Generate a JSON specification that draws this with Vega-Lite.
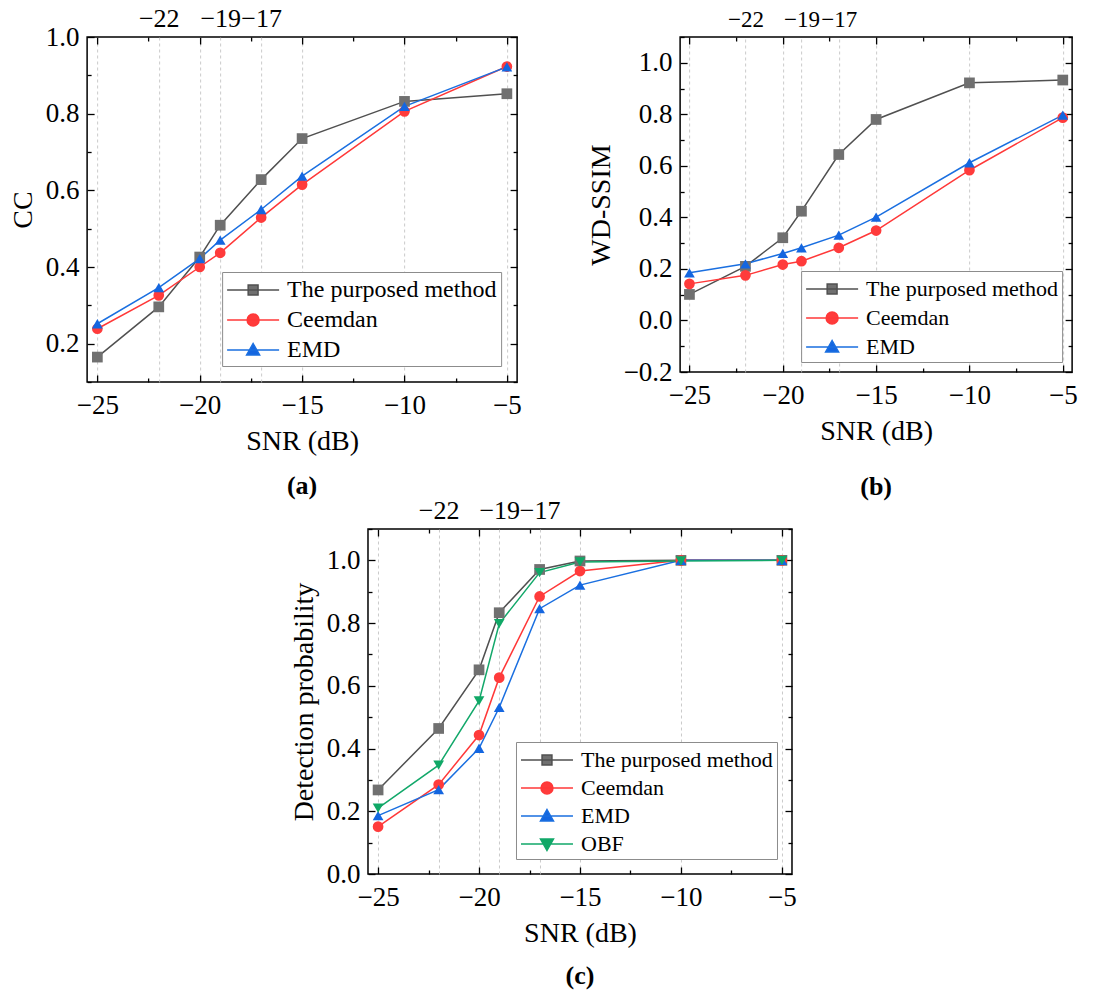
{
  "$schema": "https://vega.github.io/schema/vega-lite/v6.json",
  "background": "white",
  "padding": {"left": 8, "top": 4, "right": 4, "bottom": 4},
  "datasets": {
    "a": [
      {"snr": -25, "v": 0.165, "method": "The purposed method"},
      {"snr": -22, "v": 0.296, "method": "The purposed method"},
      {"snr": -20, "v": 0.426, "method": "The purposed method"},
      {"snr": -19, "v": 0.509, "method": "The purposed method"},
      {"snr": -17, "v": 0.628, "method": "The purposed method"},
      {"snr": -15, "v": 0.735, "method": "The purposed method"},
      {"snr": -10, "v": 0.832, "method": "The purposed method"},
      {"snr": -5, "v": 0.852, "method": "The purposed method"},
      {"snr": -25, "v": 0.239, "method": "Ceemdan"},
      {"snr": -22, "v": 0.326, "method": "Ceemdan"},
      {"snr": -20, "v": 0.400, "method": "Ceemdan"},
      {"snr": -19, "v": 0.437, "method": "Ceemdan"},
      {"snr": -17, "v": 0.529, "method": "Ceemdan"},
      {"snr": -15, "v": 0.615, "method": "Ceemdan"},
      {"snr": -10, "v": 0.806, "method": "Ceemdan"},
      {"snr": -5, "v": 0.923, "method": "Ceemdan"},
      {"snr": -25, "v": 0.252, "method": "EMD"},
      {"snr": -22, "v": 0.346, "method": "EMD"},
      {"snr": -20, "v": 0.422, "method": "EMD"},
      {"snr": -19, "v": 0.470, "method": "EMD"},
      {"snr": -17, "v": 0.550, "method": "EMD"},
      {"snr": -15, "v": 0.637, "method": "EMD"},
      {"snr": -10, "v": 0.819, "method": "EMD"},
      {"snr": -5, "v": 0.922, "method": "EMD"}
    ],
    "b": [
      {"snr": -25, "v": 0.101, "method": "The purposed method"},
      {"snr": -22, "v": 0.210, "method": "The purposed method"},
      {"snr": -20, "v": 0.321, "method": "The purposed method"},
      {"snr": -19, "v": 0.424, "method": "The purposed method"},
      {"snr": -17, "v": 0.644, "method": "The purposed method"},
      {"snr": -15, "v": 0.780, "method": "The purposed method"},
      {"snr": -10, "v": 0.922, "method": "The purposed method"},
      {"snr": -5, "v": 0.933, "method": "The purposed method"},
      {"snr": -25, "v": 0.142, "method": "Ceemdan"},
      {"snr": -22, "v": 0.175, "method": "Ceemdan"},
      {"snr": -20, "v": 0.217, "method": "Ceemdan"},
      {"snr": -19, "v": 0.230, "method": "Ceemdan"},
      {"snr": -17, "v": 0.282, "method": "Ceemdan"},
      {"snr": -15, "v": 0.349, "method": "Ceemdan"},
      {"snr": -10, "v": 0.583, "method": "Ceemdan"},
      {"snr": -5, "v": 0.787, "method": "Ceemdan"},
      {"snr": -25, "v": 0.185, "method": "EMD"},
      {"snr": -22, "v": 0.220, "method": "EMD"},
      {"snr": -20, "v": 0.260, "method": "EMD"},
      {"snr": -19, "v": 0.282, "method": "EMD"},
      {"snr": -17, "v": 0.331, "method": "EMD"},
      {"snr": -15, "v": 0.401, "method": "EMD"},
      {"snr": -10, "v": 0.612, "method": "EMD"},
      {"snr": -5, "v": 0.797, "method": "EMD"}
    ],
    "c": [
      {"snr": -25, "v": 0.268, "method": "The purposed method"},
      {"snr": -22, "v": 0.464, "method": "The purposed method"},
      {"snr": -20, "v": 0.651, "method": "The purposed method"},
      {"snr": -19, "v": 0.833, "method": "The purposed method"},
      {"snr": -17, "v": 0.971, "method": "The purposed method"},
      {"snr": -15, "v": 0.998, "method": "The purposed method"},
      {"snr": -10, "v": 1.0, "method": "The purposed method"},
      {"snr": -5, "v": 1.0, "method": "The purposed method"},
      {"snr": -25, "v": 0.151, "method": "Ceemdan"},
      {"snr": -22, "v": 0.285, "method": "Ceemdan"},
      {"snr": -20, "v": 0.443, "method": "Ceemdan"},
      {"snr": -19, "v": 0.626, "method": "Ceemdan"},
      {"snr": -17, "v": 0.885, "method": "Ceemdan"},
      {"snr": -15, "v": 0.966, "method": "Ceemdan"},
      {"snr": -10, "v": 1.0, "method": "Ceemdan"},
      {"snr": -5, "v": 1.0, "method": "Ceemdan"},
      {"snr": -25, "v": 0.186, "method": "EMD"},
      {"snr": -22, "v": 0.269, "method": "EMD"},
      {"snr": -20, "v": 0.401, "method": "EMD"},
      {"snr": -19, "v": 0.531, "method": "EMD"},
      {"snr": -17, "v": 0.846, "method": "EMD"},
      {"snr": -15, "v": 0.921, "method": "EMD"},
      {"snr": -10, "v": 1.0, "method": "EMD"},
      {"snr": -5, "v": 1.0, "method": "EMD"},
      {"snr": -25, "v": 0.210, "method": "OBF"},
      {"snr": -22, "v": 0.347, "method": "OBF"},
      {"snr": -20, "v": 0.552, "method": "OBF"},
      {"snr": -19, "v": 0.798, "method": "OBF"},
      {"snr": -17, "v": 0.961, "method": "OBF"},
      {"snr": -15, "v": 0.995, "method": "OBF"},
      {"snr": -10, "v": 0.998, "method": "OBF"},
      {"snr": -5, "v": 1.0, "method": "OBF"}
    ]
  },
  "vconcat": [
    {
      "hconcat": [
        {
          "data": {"name": "a"},
          "width": 430,
          "height": 345,
          "title": {"text": "(a)", "orient": "bottom", "fontWeight": "bold", "offset": 18},
          "resolve": {"scale": {"fill": "independent", "stroke": "independent", "shape": "independent"}},
          "layer": [
            {
              "mark": {"type": "line", "strokeWidth": 1.5},
              "encoding": {
                "x": {"field": "snr", "type": "quantitative", "scale": {"domain": [-25.5, -4.5], "nice": false, "zero": false},
                  "axis": {"orient": "bottom", "title": "SNR (dB)", "values": [-25, -22.5, -20, -17.5, -15, -12.5, -10, -7.5, -5], "format": "d",
                    "labelExpr": "datum.value % 5 === 0 ? datum.label : ''",
                    "tickSize": {"condition": {"test": "datum.value % 5 === 0", "value": -7}, "value": -4},
                    "labelPadding": 17, "titlePadding": 6, "grid": false}},
                "y": {"field": "v", "type": "quantitative", "scale": {"domain": [0.1, 1.0], "nice": false, "zero": false},
                  "axis": {"orient": "left", "title": "CC", "values": [0.1, 0.2, 0.3, 0.4, 0.5, 0.6, 0.7, 0.8, 0.9, 1.0],
                    "labelExpr": "round(datum.value*10) % 2 === 0 ? format(datum.value, '.1f') : ''",
                    "tickSize": {"condition": {"test": "round(datum.value*10) % 2 === 0", "value": -7}, "value": -4},
                    "labelPadding": 15, "titlePadding": 8, "grid": false}},
                "color": {"field": "method", "type": "nominal",
                  "scale": {"domain": ["The purposed method", "Ceemdan", "EMD"], "range": ["#505050", "#ff3838", "#1a6fe0"]},
                  "legend": null}
              }
            },
            {
              "mark": {"type": "point", "filled": true, "size": 115, "opacity": 1},
              "encoding": {
                "x": {"field": "snr", "type": "quantitative", "scale": {"domain": [-25.5, -4.5], "nice": false, "zero": false},
                  "axis": {"orient": "top", "title": null, "values": [-25, -22.5, -22, -20, -19, -17.5, -17, -15, -12.5, -10, -7.5, -5], "format": "d",
                    "labelExpr": "indexof([-22, -19, -17], datum.value) >= 0 ? datum.label : ''",
                    "labelFontSize": 26,
                    "tickSize": {"condition": {"test": "datum.value % 5 === 0", "value": -7}, "value": -4},
                    "tickOpacity": {"condition": {"test": "datum.value % 2.5 === 0", "value": 1}, "value": 0},
                    "grid": true,
                    "gridOpacity": {"condition": {"test": "indexof([-25, -22, -20, -19, -17, -15, -10, -5], datum.value) >= 0", "value": 1}, "value": 0},
                    "labelPadding": 10}},
                "y": {"field": "v", "type": "quantitative", "scale": {"domain": [0.1, 1.0], "nice": false, "zero": false},
                  "axis": {"orient": "right", "title": null, "labels": false, "values": [0.1, 0.2, 0.3, 0.4, 0.5, 0.6, 0.7, 0.8, 0.9, 1.0],
                    "tickSize": {"condition": {"test": "round(datum.value*10) % 2 === 0", "value": -7}, "value": -4}, "grid": false}},
                "fill": {"field": "method", "type": "nominal",
                  "scale": {"domain": ["The purposed method", "Ceemdan", "EMD"], "range": ["#707070", "#ff3b3b", "#1466e0"]}, "legend": null},
                "shape": {"field": "method", "type": "nominal",
                  "scale": {"domain": ["The purposed method", "Ceemdan", "EMD"], "range": ["square", "circle", "triangle-up"]}, "legend": null}
              }
            },
            {
              "mark": {"type": "point", "filled": true, "opacity": 0},
              "encoding": {
                "x": {"field": "snr", "type": "quantitative", "axis": null},
                "y": {"field": "v", "type": "quantitative", "axis": null},
                "fill": {"field": "method", "type": "nominal",
                  "scale": {"domain": ["The purposed method", "Ceemdan", "EMD"], "range": ["#707070", "#ff3b3b", "#1466e0"]},
                  "legend": {"title": null, "orient": "bottom-right", "offset": 16, "labelFontSize": 24, "rowPadding": 4, "symbolFillColor": "#707070", "symbolStrokeColor": "#606060", "symbolOpacity": 1}},
                "stroke": {"field": "method", "type": "nominal",
                  "scale": {"domain": ["The purposed method", "Ceemdan", "EMD"], "range": ["#505050", "#ff3838", "#1a6fe0"]},
                  "legend": {"title": null, "orient": "bottom-right", "offset": 16, "labelFontSize": 24, "rowPadding": 4, "symbolFillColor": "#707070", "symbolStrokeColor": "#606060", "symbolOpacity": 1}},
                "shape": {"field": "method", "type": "nominal",
                  "scale": {"domain": ["The purposed method", "Ceemdan", "EMD"], "range": ["M-2,0H2M-0.38,-0.38H0.38V0.38H-0.38Z", "M-2,0H2M-0.46,0A0.46,0.46 0 1,0 0.46,0A0.46,0.46 0 1,0 -0.46,0Z", "M-2,0H2M0,-0.5L0.5,0.38L-0.5,0.38Z"]},
                  "legend": {"title": null, "orient": "bottom-right", "offset": 16, "labelFontSize": 24, "rowPadding": 4, "symbolFillColor": "#707070", "symbolStrokeColor": "#606060", "symbolOpacity": 1}}
              }
            }
          ]
        },
        {
          "data": {"name": "b"},
          "width": 392,
          "height": 335,
          "title": {"text": "(b)", "orient": "bottom", "fontWeight": "bold", "offset": 29},
          "resolve": {"scale": {"fill": "independent", "stroke": "independent", "shape": "independent"}},
          "layer": [
            {
              "mark": {"type": "line", "strokeWidth": 1.5},
              "encoding": {
                "x": {"field": "snr", "type": "quantitative", "scale": {"domain": [-25.5, -4.5], "nice": false, "zero": false},
                  "axis": {"orient": "bottom", "title": "SNR (dB)", "values": [-25, -22.5, -20, -17.5, -15, -12.5, -10, -7.5, -5], "format": "d",
                    "labelExpr": "datum.value % 5 === 0 ? datum.label : ''",
                    "tickSize": {"condition": {"test": "datum.value % 5 === 0", "value": -7}, "value": -4},
                    "labelPadding": 17, "titlePadding": 6, "grid": false}},
                "y": {"field": "v", "type": "quantitative", "scale": {"domain": [-0.2, 1.1], "nice": false, "zero": false},
                  "axis": {"orient": "left", "title": "WD-SSIM", "values": [-0.2, -0.1, 0, 0.1, 0.2, 0.3, 0.4, 0.5, 0.6, 0.7, 0.8, 0.9, 1.0, 1.1],
                    "labelExpr": "round(datum.value*10) % 2 === 0 ? format(datum.value, '.1f') : ''",
                    "tickSize": {"condition": {"test": "round(datum.value*10) % 2 === 0", "value": -7}, "value": -4},
                    "labelPadding": 15, "titlePadding": 8, "grid": false}},
                "color": {"field": "method", "type": "nominal",
                  "scale": {"domain": ["The purposed method", "Ceemdan", "EMD"], "range": ["#505050", "#ff3838", "#1a6fe0"]},
                  "legend": null}
              }
            },
            {
              "mark": {"type": "point", "filled": true, "size": 115, "opacity": 1},
              "encoding": {
                "x": {"field": "snr", "type": "quantitative", "scale": {"domain": [-25.5, -4.5], "nice": false, "zero": false},
                  "axis": {"orient": "top", "title": null, "values": [-25, -22.5, -22, -20, -19, -17.5, -17, -15, -12.5, -10, -7.5, -5], "format": "d",
                    "labelExpr": "indexof([-22, -19, -17], datum.value) >= 0 ? datum.label : ''",
                    "labelFontSize": 23,
                    "tickSize": {"condition": {"test": "datum.value % 5 === 0", "value": -7}, "value": -4},
                    "tickOpacity": {"condition": {"test": "datum.value % 2.5 === 0", "value": 1}, "value": 0},
                    "grid": true,
                    "gridOpacity": {"condition": {"test": "indexof([-25, -22, -20, -19, -17, -15, -10, -5], datum.value) >= 0", "value": 1}, "value": 0},
                    "labelPadding": 10}},
                "y": {"field": "v", "type": "quantitative", "scale": {"domain": [-0.2, 1.1], "nice": false, "zero": false},
                  "axis": {"orient": "right", "title": null, "labels": false, "values": [-0.2, -0.1, 0, 0.1, 0.2, 0.3, 0.4, 0.5, 0.6, 0.7, 0.8, 0.9, 1.0, 1.1],
                    "tickSize": {"condition": {"test": "round(datum.value*10) % 2 === 0", "value": -7}, "value": -4}, "grid": false}},
                "fill": {"field": "method", "type": "nominal",
                  "scale": {"domain": ["The purposed method", "Ceemdan", "EMD"], "range": ["#707070", "#ff3b3b", "#1466e0"]}, "legend": null},
                "shape": {"field": "method", "type": "nominal",
                  "scale": {"domain": ["The purposed method", "Ceemdan", "EMD"], "range": ["square", "circle", "triangle-up"]}, "legend": null}
              }
            },
            {
              "mark": {"type": "point", "filled": true, "opacity": 0},
              "encoding": {
                "x": {"field": "snr", "type": "quantitative", "axis": null},
                "y": {"field": "v", "type": "quantitative", "axis": null},
                "fill": {"field": "method", "type": "nominal",
                  "scale": {"domain": ["The purposed method", "Ceemdan", "EMD"], "range": ["#707070", "#ff3b3b", "#1466e0"]},
                  "legend": {"title": null, "orient": "bottom-right", "offset": 10, "labelFontSize": 22, "rowPadding": 4, "symbolFillColor": "#707070", "symbolStrokeColor": "#606060", "symbolOpacity": 1}},
                "stroke": {"field": "method", "type": "nominal",
                  "scale": {"domain": ["The purposed method", "Ceemdan", "EMD"], "range": ["#505050", "#ff3838", "#1a6fe0"]},
                  "legend": {"title": null, "orient": "bottom-right", "offset": 10, "labelFontSize": 22, "rowPadding": 4, "symbolFillColor": "#707070", "symbolStrokeColor": "#606060", "symbolOpacity": 1}},
                "shape": {"field": "method", "type": "nominal",
                  "scale": {"domain": ["The purposed method", "Ceemdan", "EMD"], "range": ["M-2,0H2M-0.38,-0.38H0.38V0.38H-0.38Z", "M-2,0H2M-0.46,0A0.46,0.46 0 1,0 0.46,0A0.46,0.46 0 1,0 -0.46,0Z", "M-2,0H2M0,-0.5L0.5,0.38L-0.5,0.38Z"]},
                  "legend": {"title": null, "orient": "bottom-right", "offset": 10, "labelFontSize": 22, "rowPadding": 4, "symbolFillColor": "#707070", "symbolStrokeColor": "#606060", "symbolOpacity": 1}}
              }
            }
          ]
        }
      ],
      "spacing": 64,
      "resolve": {"scale": {"color": "independent", "fill": "independent", "stroke": "independent", "shape": "independent", "x": "independent", "y": "independent"}}
    },
    {
      "data": {"name": "c"},
      "width": 424,
      "height": 345,
      "title": {"text": "(c)", "orient": "bottom", "fontWeight": "bold", "offset": 16},
      "resolve": {"scale": {"fill": "independent", "stroke": "independent", "shape": "independent"}},
      "layer": [
        {
          "mark": {"type": "line", "strokeWidth": 1.5},
          "encoding": {
            "x": {"field": "snr", "type": "quantitative", "scale": {"domain": [-25.5, -4.5], "nice": false, "zero": false},
              "axis": {"orient": "bottom", "title": "SNR (dB)", "values": [-25, -22.5, -20, -17.5, -15, -12.5, -10, -7.5, -5], "format": "d",
                "labelExpr": "datum.value % 5 === 0 ? datum.label : ''",
                "tickSize": {"condition": {"test": "datum.value % 5 === 0", "value": -7}, "value": -4},
                "labelPadding": 17, "titlePadding": 6, "grid": false}},
            "y": {"field": "v", "type": "quantitative", "scale": {"domain": [0, 1.1], "nice": false, "zero": false},
              "axis": {"orient": "left", "title": "Detection probability", "values": [0, 0.1, 0.2, 0.3, 0.4, 0.5, 0.6, 0.7, 0.8, 0.9, 1.0, 1.1],
                "labelExpr": "round(datum.value*10) % 2 === 0 ? format(datum.value, '.1f') : ''",
                "tickSize": {"condition": {"test": "round(datum.value*10) % 2 === 0", "value": -7}, "value": -4},
                "labelPadding": 15, "titlePadding": 8, "grid": false}},
            "color": {"field": "method", "type": "nominal",
              "scale": {"domain": ["The purposed method", "Ceemdan", "EMD", "OBF"], "range": ["#505050", "#ff3838", "#1a6fe0", "#12a86a"]},
              "legend": null}
          }
        },
        {
          "mark": {"type": "point", "filled": true, "size": 115, "opacity": 1},
          "encoding": {
            "x": {"field": "snr", "type": "quantitative", "scale": {"domain": [-25.5, -4.5], "nice": false, "zero": false},
              "axis": {"orient": "top", "title": null, "values": [-25, -22.5, -22, -20, -19, -17.5, -17, -15, -12.5, -10, -7.5, -5], "format": "d",
                "labelExpr": "indexof([-22, -19, -17], datum.value) >= 0 ? datum.label : ''",
                "labelFontSize": 26,
                "tickSize": {"condition": {"test": "datum.value % 5 === 0", "value": -7}, "value": -4},
                "tickOpacity": {"condition": {"test": "datum.value % 2.5 === 0", "value": 1}, "value": 0},
                "grid": true,
                "gridOpacity": {"condition": {"test": "indexof([-25, -22, -20, -19, -17, -15, -10, -5], datum.value) >= 0", "value": 1}, "value": 0},
                "labelPadding": 10}},
            "y": {"field": "v", "type": "quantitative", "scale": {"domain": [0, 1.1], "nice": false, "zero": false},
              "axis": {"orient": "right", "title": null, "labels": false, "values": [0, 0.1, 0.2, 0.3, 0.4, 0.5, 0.6, 0.7, 0.8, 0.9, 1.0, 1.1],
                "tickSize": {"condition": {"test": "round(datum.value*10) % 2 === 0", "value": -7}, "value": -4}, "grid": false}},
            "fill": {"field": "method", "type": "nominal",
              "scale": {"domain": ["The purposed method", "Ceemdan", "EMD", "OBF"], "range": ["#707070", "#ff3b3b", "#1466e0", "#10a866"]}, "legend": null},
            "shape": {"field": "method", "type": "nominal",
              "scale": {"domain": ["The purposed method", "Ceemdan", "EMD", "OBF"], "range": ["square", "circle", "triangle-up", "triangle-down"]}, "legend": null}
          }
        },
        {
          "mark": {"type": "point", "filled": true, "opacity": 0},
          "encoding": {
            "x": {"field": "snr", "type": "quantitative", "axis": null},
            "y": {"field": "v", "type": "quantitative", "axis": null},
            "fill": {"field": "method", "type": "nominal",
              "scale": {"domain": ["The purposed method", "Ceemdan", "EMD", "OBF"], "range": ["#707070", "#ff3b3b", "#1466e0", "#10a866"]},
              "legend": {"title": null, "orient": "bottom-right", "offset": 15, "labelFontSize": 22, "rowPadding": 3, "symbolFillColor": "#707070", "symbolStrokeColor": "#606060", "symbolOpacity": 1}},
            "stroke": {"field": "method", "type": "nominal",
              "scale": {"domain": ["The purposed method", "Ceemdan", "EMD", "OBF"], "range": ["#505050", "#ff3838", "#1a6fe0", "#12a86a"]},
              "legend": {"title": null, "orient": "bottom-right", "offset": 15, "labelFontSize": 22, "rowPadding": 3, "symbolFillColor": "#707070", "symbolStrokeColor": "#606060", "symbolOpacity": 1}},
            "shape": {"field": "method", "type": "nominal",
              "scale": {"domain": ["The purposed method", "Ceemdan", "EMD", "OBF"], "range": ["M-2,0H2M-0.38,-0.38H0.38V0.38H-0.38Z", "M-2,0H2M-0.46,0A0.46,0.46 0 1,0 0.46,0A0.46,0.46 0 1,0 -0.46,0Z", "M-2,0H2M0,-0.5L0.5,0.38L-0.5,0.38Z", "M-2,0H2M0,0.5L0.5,-0.38L-0.5,-0.38Z"]},
              "legend": {"title": null, "orient": "bottom-right", "offset": 15, "labelFontSize": 22, "rowPadding": 3, "symbolFillColor": "#707070", "symbolStrokeColor": "#606060", "symbolOpacity": 1}}
          }
        }
      ]
    }
  ],
  "spacing": -5,
  "center": true,
  "resolve": {"scale": {"color": "independent", "fill": "independent", "stroke": "independent", "shape": "independent", "x": "independent", "y": "independent"}},
  "config": {
    "font": "Liberation Serif",
    "view": {"stroke": "black", "strokeWidth": 1.5},
    "title": {"font": "Liberation Serif", "fontSize": 26, "color": "black"},
    "axis": {
      "domain": false,
      "labelFont": "Liberation Serif", "labelFontSize": 27, "labelColor": "black",
      "titleFont": "Liberation Serif", "titleFontSize": 28, "titleFontWeight": "normal", "titleColor": "black",
      "tickColor": "black", "tickWidth": 1.3,
      "gridColor": "#bdbdbd", "gridDash": [3, 3], "gridWidth": 0.8,
      "labelFlush": false, "labelOverlap": false
    },
    "legend": {
      "labelFont": "Liberation Serif", "labelColor": "black", "labelLimit": 400,
      "padding": 4, "symbolOffset": 13, "labelOffset": 20,
      "strokeColor": "#8c8c8c", "fillColor": "white",
      "symbolStrokeWidth": 1.5, "symbolSize": 676
    }
  }
}
